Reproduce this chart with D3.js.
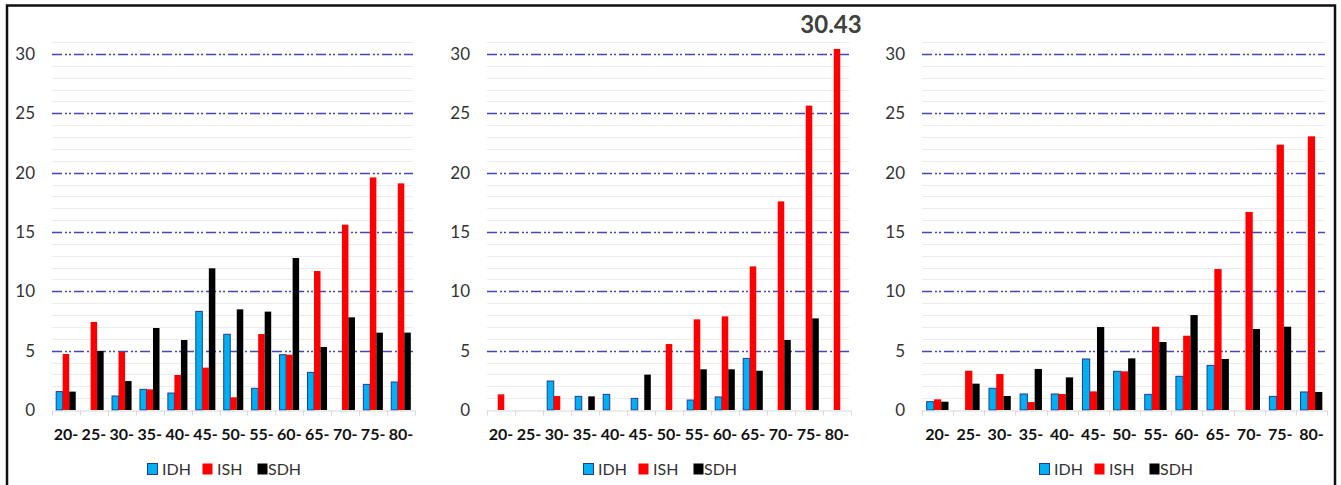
<!DOCTYPE html>
<html>
<head>
<meta charset="utf-8">
<script src="https://cdn.jsdelivr.net/npm/d3@7"></script>
<style>
  body { margin: 0; background: #fff; }
  svg { display: block; font-family: Lato, "Open Sans", sans-serif; }
</style>
</head>
<body>
<div id="chart"></div>
<script>
// age groups
const categories = ["20-", "25-", "30-", "35-", "40-", "45-", "50-", "55-", "60-", "65-", "70-", "75-", "80-"]
const seriesNames = ["IDH", "ISH", "SDH"]
const yTicks = [0, 5, 10, 15, 20, 25, 30]

// left panel
const leftIDH = [1.55, 0, 1.18, 1.74, 1.43, 8.31, 6.38, 1.83, 4.66, 3.17, 0, 2.16, 2.36]
const leftISH = [4.72, 7.42, 4.89, 1.74, 2.95, 3.57, 1.07, 6.40, 4.66, 11.71, 15.62, 19.6, 19.1]
const leftSDH = [1.55, 4.97, 2.44, 6.91, 5.9, 11.94, 8.48, 8.29, 12.81, 5.31, 7.81, 6.52, 6.52]

// middle panel
const midIDH = [0, 0, 2.44, 1.15, 1.32, 0.98, 0, 0.84, 1.1, 4.35, 0, 0, 0]
const midISH = [1.32, 0, 1.18, 0, 0, 0, 5.56, 7.64, 7.89, 12.1, 17.58, 25.65, 30.43]
const midSDH = [0, 0, 0, 1.15, 0, 2.98, 0, 3.43, 3.43, 3.31, 5.9, 7.72, 0]

// right panel
const rightIDH = [0.7, 0, 1.83, 1.35, 1.35, 4.3, 3.26, 1.32, 2.84, 3.76, 0, 1.15, 1.52]
const rightISH = [0.9, 3.31, 3.03, 0.67, 1.35, 1.57, 3.26, 7.02, 6.26, 11.88, 16.69, 22.36, 23.06]
const rightSDH = [0.7, 2.22, 1.18, 3.46, 2.75, 6.99, 4.35, 5.73, 8.0, 4.3, 6.83, 7.02, 1.52]

const colors = { IDH: "#00b0f0", ISH: "#ff0000", SDH: "#000000" }

const panels = [
  { left: 52, right: 415, series: [leftIDH, leftISH, leftSDH], legendX: 147 },
  { left: 487, right: 851, series: [midIDH, midISH, midSDH], legendX: 583, callout: true },
  { left: 922, right: 1327, series: [rightIDH, rightISH, rightSDH], legendX: 1039 }
]

const width = 1341
const height = 485

const svg = d3.select("#chart")
  .append("svg")
    .attr("width", width)
    .attr("height", height)

// outer frame (no bottom edge in the original)
svg.append("path")
  .attr("d", `M7,${height} V5.5 H1335 V${height}`)
  .attr("fill", "none")
  .attr("stroke", "#111")
  .attr("stroke-width", 2.5)

const y = d3.scaleLinear()
  .domain([0, 30])
  .range([410, 54])

panels.forEach(p => {
  const g = svg.append("g")

  const x = d3.scaleBand()
    .domain(categories)
    .range([p.left, p.right])
    .paddingInner(0.3)
    .paddingOuter(0.15)

  const xs = d3.scaleBand()
    .domain(seriesNames)
    .range([0, x.bandwidth()])

  // minor grid
  g.append("g")
    .selectAll("line")
    .data(d3.range(1, 32).filter(v => v % 5 !== 0))
    .join("line")
      .attr("x1", p.left)
      .attr("x2", p.right - 2)
      .attr("y1", d => Math.round(y(d)) + 0.5)
      .attr("y2", d => Math.round(y(d)) + 0.5)
      .attr("stroke", "#ececec")
      .attr("stroke-width", 1)

  // major grid, dash-dot-dot
  g.append("g")
    .selectAll("line")
    .data(yTicks.filter(v => v > 0))
    .join("line")
      .attr("x1", p.left)
      .attr("x2", p.right - 2)
      .attr("y1", d => Math.round(y(d)) + 0.5)
      .attr("y2", d => Math.round(y(d)) + 0.5)
      .attr("stroke", "#4646b4")
      .attr("stroke-width", 1.3)
      .attr("stroke-dasharray", "10,3,2,2,2,3")

  // y labels
  g.append("g")
    .selectAll("text")
    .data(yTicks)
    .join("text")
      .attr("x", p.left - 17)
      .attr("y", d => y(d))
      .attr("dy", "0.35em")
      .attr("text-anchor", "end")
      .attr("font-size", 17)
      .attr("fill", "#333")
      .text(d => d)

  // bars
  const groups = g.append("g")
    .selectAll("g")
    .data(categories)
    .join("g")
      .attr("transform", d => `translate(${x(d)},0)`)

  groups.selectAll("rect")
    .data((c, i) => seriesNames.map((s, k) => ({ s, v: p.series[k][i] })).filter(d => d.v > 0))
    .join("rect")
      .attr("x", d => xs(d.s))
      .attr("y", d => y(d.v))
      .attr("width", xs.bandwidth())
      .attr("height", d => y(0) - y(d.v))
      .attr("fill", d => colors[d.s])
      .attr("stroke", d => d.s === "IDH" ? "#1f3c9a" : "none")
      .attr("stroke-width", 1)

  // x axis
  const axis = g.append("g")
    .attr("transform", `translate(0,${y(0) + 0.5})`)
    .call(d3.axisBottom(x).tickSize(0).tickPadding(18))

  axis.select(".domain")
    .attr("stroke", "#d9d9d9")

  axis.selectAll(".tick text")
    .attr("font-size", 16)
    .attr("font-weight", "bold")
    .attr("font-family", "Lato, sans-serif")
    .attr("fill", "#111")

  // category separators
  const step = x.step()
  axis.append("g")
    .selectAll("line")
    .data(d3.range(categories.length + 1))
    .join("line")
      .attr("x1", i => Math.round(p.left + i * step) + 0.5)
      .attr("x2", i => Math.round(p.left + i * step) + 0.5)
      .attr("y1", 0)
      .attr("y2", 5)
      .attr("stroke", "#d9d9d9")

  // legend
  const legend = g.append("g")
    .attr("transform", `translate(${p.legendX},469)`)
  const offsets = [0, 55, 110]
  seriesNames.forEach((s, k) => {
    legend.append("rect")
      .attr("x", offsets[k] + 0.5)
      .attr("y", -5.5)
      .attr("width", 10)
      .attr("height", 11)
      .attr("fill", colors[s])
      .attr("stroke", s === "IDH" ? "#1f3c9a" : "none")
    legend.append("text")
      .attr("x", offsets[k] + (s === "SDH" ? 11 : 15))
      .attr("y", 0)
      .attr("dy", "0.36em")
      .attr("font-size", 16)
      .attr("fill", "#333")
      .text(s)
  })

  // callout for the tallest bar
  if (p.callout) {
    const last = categories[categories.length - 1]
    const v = p.series[1][categories.length - 1]
    g.append("text")
      .attr("x", x(last) + xs("ISH") + xs.bandwidth() / 2 - 6)
      .attr("y", y(v) - 16)
      .attr("text-anchor", "middle")
      .attr("font-size", 24)
      .attr("font-weight", "bold")
      .attr("fill", "#404040")
      .text(d3.format(".2f")(v))
  }
})
</script>
</body>
</html>
